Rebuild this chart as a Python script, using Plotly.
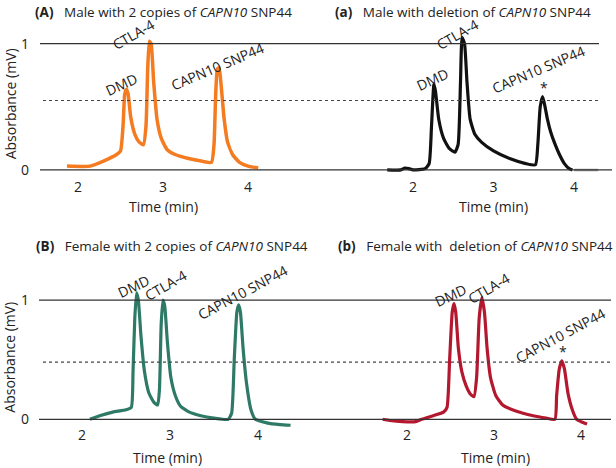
import plotly.graph_objects as go

W, H = 616, 468
FONT = "Open Sans"

# ---------------- data (time in min, absorbance in mV) ----------------
t_A = [1.87, 2.14, 2.30, 2.45, 2.50, 2.53, 2.55, 2.57, 2.59, 2.62, 2.67, 2.72, 2.77, 2.80, 2.82, 2.84, 2.86, 2.89, 2.93,
       2.98, 3.05, 3.15, 3.30, 3.45, 3.57, 3.60, 3.62, 3.64, 3.66, 3.68, 3.72, 3.76, 3.82, 3.90, 4.00, 4.12]
y_A = [0.03, 0.03, 0.07, 0.12, 0.15, 0.35, 0.60, 0.64, 0.60, 0.42, 0.28, 0.22, 0.20, 0.35, 0.80, 1.02, 1.00, 0.70, 0.40,
       0.25, 0.16, 0.12, 0.09, 0.07, 0.06, 0.20, 0.60, 0.80, 0.81, 0.70, 0.40, 0.22, 0.12, 0.06, 0.03, 0.015]

t_a = [1.68, 1.85, 1.90, 1.95, 2.00, 2.15, 2.20, 2.23, 2.26, 2.28, 2.32, 2.38, 2.45, 2.52, 2.56, 2.59, 2.61, 2.64, 2.67,
       2.71, 2.77, 2.85, 3.00, 3.20, 3.40, 3.52, 3.55, 3.58, 3.61, 3.64, 3.67, 3.71, 3.76, 3.82, 3.88, 3.94, 3.98]
y_a = [0.00, 0.00, 0.015, 0.01, 0.00, 0.01, 0.05, 0.35, 0.68, 0.62, 0.40, 0.25, 0.17, 0.14, 0.20, 0.70, 1.05, 1.00, 0.70,
       0.40, 0.28, 0.22, 0.15, 0.09, 0.05, 0.04, 0.20, 0.50, 0.58, 0.50, 0.40, 0.30, 0.21, 0.12, 0.05, 0.01, 0.00]
t_a_tail = [4.00, 4.31]
y_a_tail = [0.00, 0.00]

t_B = [2.09, 2.20, 2.35, 2.50, 2.56, 2.58, 2.60, 2.62, 2.64, 2.67, 2.71, 2.76, 2.82, 2.86, 2.88, 2.90, 2.92, 2.94, 2.97,
       3.01, 3.06, 3.12, 3.22, 3.35, 3.50, 3.66, 3.70, 3.73, 3.76, 3.78, 3.80, 3.83, 3.87, 3.92, 3.97, 4.10, 4.25, 4.37]
y_B = [0.00, 0.03, 0.06, 0.08, 0.10, 0.40, 0.85, 1.06, 1.00, 0.70, 0.40, 0.22, 0.14, 0.12, 0.25, 0.80, 1.00, 0.95, 0.65,
       0.35, 0.20, 0.11, 0.06, 0.03, 0.01, 0.00, 0.05, 0.50, 0.90, 0.96, 0.90, 0.60, 0.30, 0.08, 0.00, -0.03, -0.045, -0.05]

t_b = [1.72, 1.80, 1.95, 2.10, 2.17, 2.30, 2.42, 2.46, 2.49, 2.52, 2.54, 2.56, 2.59, 2.63, 2.68, 2.73, 2.77, 2.80, 2.83,
       2.86, 2.89, 2.92, 2.96, 3.02, 3.10, 3.25, 3.45, 3.60, 3.70, 3.72, 3.75, 3.78, 3.81, 3.85, 3.90, 3.95, 4.00, 4.07]
y_b = [0.00, -0.01, -0.02, -0.02, 0.00, 0.03, 0.06, 0.10, 0.50, 0.90, 0.97, 0.90, 0.60, 0.40, 0.28, 0.21, 0.19, 0.35, 0.85,
       1.02, 0.90, 0.60, 0.35, 0.20, 0.12, 0.07, 0.03, 0.01, 0.00, 0.20, 0.42, 0.49, 0.42, 0.22, 0.08, 0.00, -0.02, -0.04]

x_ticks = [2, 3, 4]
y_ticks = [0, 1]
threshold_top = 0.55
threshold_bottom = 0.48

peak_labels = ["DMD", "CTLA-4", "CAPN10 SNP44"]
titles = [
    "<b>(A)</b>   Male with 2 copies of <i>CAPN10</i> SNP44",
    "<b>(a)</b>   Male with deletion of <i>CAPN10</i> SNP44",
    "<b>(B)</b>   Female with 2 copies of <i>CAPN10</i> SNP44",
    "<b>(b)</b>   Female with  deletion of <i>CAPN10</i> SNP44",
]

ORANGE, BLACK, TEAL, RED = "#F47B20", "#111111", "#2E7A67", "#B3182F"


def X(px):
    return px / W


def Y(py):
    return 1 - py / H


fig = go.Figure()
common = dict(mode="lines", line_shape="spline", showlegend=False, hoverinfo="skip")
fig.add_trace(go.Scatter(x=t_A, y=y_A, xaxis="x", yaxis="y",
                         line=dict(color=ORANGE, width=3.5, smoothing=0.5), **common))
fig.add_trace(go.Scatter(x=t_a, y=y_a, xaxis="x2", yaxis="y",
                         line=dict(color=BLACK, width=3.2, smoothing=0.5), **common))
fig.add_trace(go.Scatter(x=t_a_tail, y=y_a_tail, xaxis="x2", yaxis="y",
                         line=dict(color="#999999", width=2.5), **common))
fig.add_trace(go.Scatter(x=t_B, y=y_B, xaxis="x3", yaxis="y2",
                         line=dict(color=TEAL, width=3.2, smoothing=0.5), **common))
fig.add_trace(go.Scatter(x=t_b, y=y_b, xaxis="x4", yaxis="y2",
                         line=dict(color=RED, width=3.2, smoothing=0.5), **common))

xcommon = dict(showgrid=False, zeroline=False, showline=False, ticks="", tickvals=x_ticks,
               tickfont=dict(size=14, color="#222"), anchor="free", fixedrange=True)
ycommon = dict(showgrid=False, zeroline=False, showline=False, ticks="", tickvals=y_ticks,
               tickfont=dict(size=14, color="#222"), anchor="free", position=X(29), fixedrange=True)

fig.update_layout(
    width=W, height=H, margin=dict(l=0, r=0, t=0, b=0),
    paper_bgcolor="white", plot_bgcolor="white",
    font=dict(family=FONT, color="#222"),
    xaxis=dict(domain=[X(44), X(282)], range=[1.6, 4.4], position=Y(178), **xcommon),
    xaxis2=dict(domain=[X(380.8), X(598.2)], range=[1.6, 4.3], position=Y(178), **xcommon),
    xaxis3=dict(domain=[X(46.8), X(302)], range=[1.6, 4.5], position=Y(428), **xcommon),
    xaxis4=dict(domain=[X(372.2), X(607.1)], range=[1.6, 4.3], position=Y(428), **xcommon),
    yaxis=dict(domain=[Y(177.35), Y(24.95)], range=[-0.05, 1.15], **ycommon),
    yaxis2=dict(domain=[Y(434), Y(284)], range=[-0.1, 1.15], **ycommon),
)

# reference lines spanning both panels of each row
line_solid = dict(color="#333333", width=1.2)
line_dot = dict(color="#444444", width=1.2, dash="dot")
shapes = [
    dict(type="line", xref="paper", yref="y", x0=X(40), x1=X(599), y0=1, y1=1, line=line_solid),
    dict(type="line", xref="paper", yref="y", x0=X(40), x1=X(612), y0=0, y1=0, line=line_solid),
    dict(type="line", xref="paper", yref="y", x0=X(43), x1=X(599), y0=threshold_top, y1=threshold_top, line=line_dot),
    dict(type="line", xref="paper", yref="y2", x0=X(39), x1=X(611), y0=1, y1=1, line=line_solid),
    dict(type="line", xref="paper", yref="y2", x0=X(39), x1=X(611), y0=0, y1=0, line=line_solid),
    dict(type="line", xref="paper", yref="y2", x0=X(43), x1=X(613), y0=threshold_bottom, y1=threshold_bottom, line=line_dot),
]
fig.update_layout(shapes=shapes)

ann = []


def text(s, px, py, size=14, angle=0, xanchor="center"):
    ann.append(dict(text=s, x=X(px), y=Y(py), xref="paper", yref="paper", showarrow=False,
                    textangle=angle, xanchor=xanchor, yanchor="middle",
                    font=dict(family=FONT, size=size, color="#222")))


# panel titles
text(titles[0], 33, 12, size=13.5, xanchor="left")
text(titles[1], 333, 12, size=13.5, xanchor="left")
text(titles[2], 34, 248, size=13.5, xanchor="left")
text(titles[3], 336, 248, size=13.5, xanchor="left")

# axis titles
for cx, cy in [(163, 208), (493, 208), (167, 460), (495, 460)]:
    text("Time (min)", cx, cy, size=14)
text("Absorbance (mV)", 10, 105, size=14, angle=-90)
text("Absorbance (mV)", 10, 360, size=14, angle=-90)

# peak labels
text(peak_labels[0], 121, 85, angle=-25)
text(peak_labels[1], 133, 35, angle=-30)
text(peak_labels[2], 217, 67, angle=-23)

text(peak_labels[0], 432, 80, angle=-25)
text(peak_labels[1], 457, 35, angle=-30)
text(peak_labels[2], 538, 70, angle=-23)
text("*", 544, 88, size=14)

text(peak_labels[0], 133, 288, angle=-25)
text(peak_labels[1], 165, 287, angle=-30)
text(peak_labels[2], 242, 294, angle=-28)

text(peak_labels[0], 450, 297, angle=-25)
text(peak_labels[1], 488, 290, angle=-30)
text(peak_labels[2], 560, 338, angle=-28)
text("*", 563, 354, size=14)

fig.update_layout(annotations=ann)

fig.write_html("out.html", config={"displayModeBar": False},
               post_script="document.body.style.margin='0';document.body.style.overflow='hidden';")
